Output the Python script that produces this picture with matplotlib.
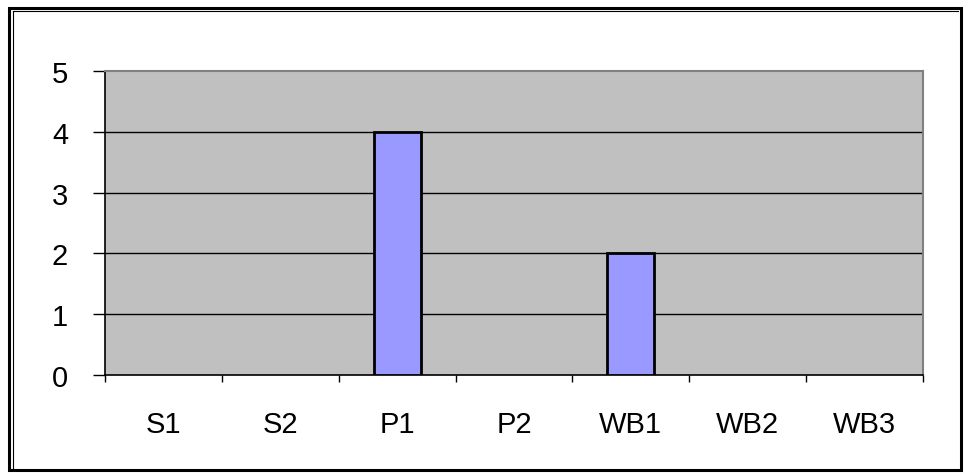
import matplotlib
matplotlib.use("Agg")
import matplotlib.pyplot as plt
from matplotlib.patches import Rectangle
from matplotlib.lines import Line2D
import numpy as np

categories = ["S1", "S2", "P1", "P2", "WB1", "WB2", "WB3"]
values = [0, 0, 4, 0, 2, 0, 0]
y_ticks = [0, 1, 2, 3, 4, 5]

plt.rcParams['font.family'] = ['Liberation Sans', 'DejaVu Sans']

W, H = 965, 477
fig = plt.figure(figsize=(W / 100, H / 100), dpi=100)
fig.patch.set_facecolor("white")

L, T, R, B = 105, 72, 923, 376
ax = fig.add_axes([L / W, 1 - B / H, (R - L) / W, (B - T) / H])
ax.set_facecolor("#C0C0C0")

x = np.arange(len(categories))
lws = [2.0 if v != 0 else 0 for v in values]
ax.bar(x, values, width=0.4, color="#9999FF", edgecolor="black", linewidth=lws, zorder=3)

ax.set_xlim(-0.5, len(categories) - 0.5)
ax.set_ylim(0, 5)
ax.set_yticks(y_ticks)
ax.set_yticklabels([str(v) for v in y_ticks], fontsize=21)
for yv in y_ticks[1:-1]:
    ax.axhline(yv, color="black", linewidth=1.0, zorder=1)

ax.set_xticks(np.arange(-0.5, len(categories), 1.0))
ax.set_xticklabels([])
ax.set_xticks(x, minor=True)
ax.set_xticklabels(categories, minor=True, fontsize=21)
ax.tick_params(axis="x", which="major", direction="out", length=5, width=1, color="black")
ax.tick_params(axis="x", which="minor", length=0, pad=25)
ax.tick_params(axis="y", direction="out", length=8.5, width=1, pad=18)

ax.spines["left"].set_color("black")
ax.spines["left"].set_linewidth(1.2)
ax.spines["bottom"].set_color("black")
ax.spines["bottom"].set_linewidth(1.2)
ax.spines["top"].set_color("#808080")
ax.spines["top"].set_linewidth(1.5)
ax.spines["right"].set_color("#808080")
ax.spines["right"].set_linewidth(1.5)

# outer frame (double line look)
fig.add_artist(Rectangle((9 / W, 1 - 471 / H), (961 - 9) / W, (471 - 9) / H,
                         transform=fig.transFigure, fill=False,
                         edgecolor="black", linewidth=2.2))
fig.add_artist(Line2D([12.5 / W, 12.5 / W], [1 - 471 / H, 1 - 12 / H],
                      transform=fig.transFigure, color="black", linewidth=0.8))
fig.add_artist(Line2D([12.5 / W, 958 / W], [1 - 12 / H, 1 - 12 / H],
                      transform=fig.transFigure, color="black", linewidth=0.8))

fig.savefig("out.png", dpi=100)
